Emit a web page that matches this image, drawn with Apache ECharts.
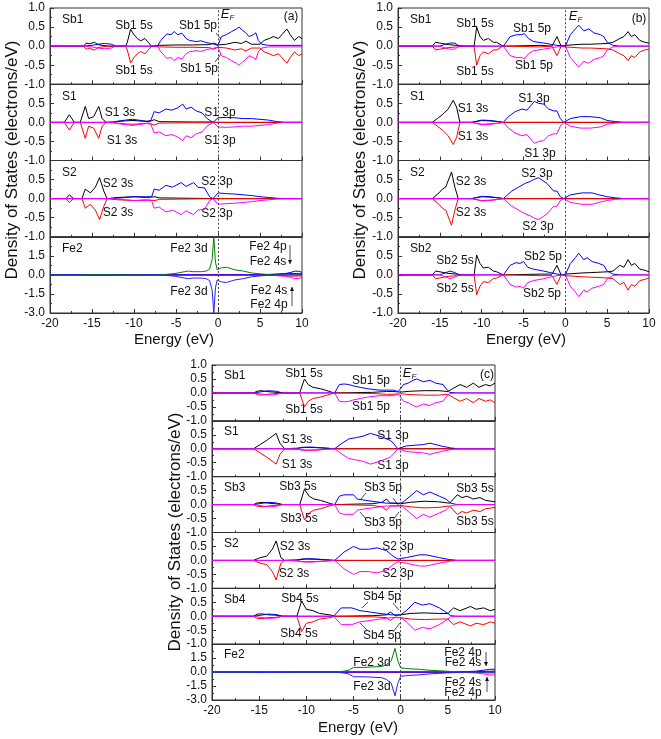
<!DOCTYPE html>
<html><head><meta charset="utf-8">
<script src="https://cdn.jsdelivr.net/npm/echarts/dist/echarts.min.js"></script>
<style>html,body{margin:0;padding:0;background:#fff}#c{width:661px;height:739px}</style>
</head><body><div id="c"></div>
<script>
// ---------- DATA (spin-up PDOS, [energy eV, states]) ; spin-down drawn mirrored ----------
const a_Sb1_s=[[-20,0],[-16,0],[-15.7,0.08],[-15.3,0.06],[-14.7,0.1],[-14.3,0.04],[-13.8,0.02],[-13,0],[-11,0],[-10.8,0.1],[-10.4,0.44],[-10,0.3],[-9.6,0.2],[-9.2,0.14],[-8.7,0.2],[-8.3,0.1],[-7.9,0],[-7,0.02],[-5,0.03],[-3,0.03],[-1,0.04],[-0.5,0.08],[0,0.03],[1,0.05],[2,0.1],[2.8,0.07],[3.3,0.13],[4,0.05],[5,0.05],[5.5,0.15],[6.1,0.2],[6.6,0.25],[7.2,0.2],[7.6,0.3],[8.2,0.45],[8.6,0.3],[9.1,0.15],[9.6,0.25],[10,0.2]];
const a_Sb1_p=[[-20,0],[-16,0],[-15,0.02],[-14.3,0.05],[-13.5,0.07],[-12.7,0.05],[-12.2,0],[-7.2,0],[-6.8,0.15],[-6.1,0.32],[-5.6,0.3],[-5.2,0.38],[-4.8,0.3],[-4.3,0.34],[-3.8,0.2],[-3.4,0.15],[-2.6,0.12],[-2,0.14],[-1.5,0.1],[-1.1,0.08],[-0.6,0.06],[0,0.02],[0.4,0.25],[1,0.3],[1.6,0.38],[2.2,0.45],[2.5,0.5],[2.9,0.42],[3.3,0.35],[3.7,0.25],[4.2,0.3],[4.5,0.35],[4.8,0.15],[5.2,0.05],[6,0.02],[10,0.02]];
const a_S1_s=[[-20,0],[-18.3,0],[-17.7,0.2],[-17.1,0],[-16.4,0],[-15.8,0.42],[-15.4,0.1],[-14.8,0.15],[-14.2,0.42],[-13.8,0.1],[-13.3,0],[-12,0.02],[-11,0.04],[-10,0.05],[-9,0.03],[-8.2,0.02],[-7.6,0.07],[-7,0.02],[-3,0.01],[-1,0.01],[0,0],[10,0]];
const a_S1_p=[[-20,0],[-12.5,0],[-12,0.03],[-11,0.06],[-10.2,0.08],[-9.5,0.06],[-8.5,0.03],[-8,0.05],[-7.6,0.28],[-7,0.25],[-6.2,0.35],[-5.5,0.32],[-4.8,0.38],[-4.2,0.48],[-3.8,0.35],[-3.2,0.4],[-2.6,0.3],[-1.9,0.25],[-1.3,0.1],[-0.6,0],[0,0.12],[1,0.13],[2,0.12],[3,0.1],[4,0.1],[5,0.08],[6,0.06],[7,0.02],[8,0],[10,0]];
const a_S2_s=[[-20,0],[-18.1,0],[-17.7,0.1],[-17.2,0],[-16.2,0],[-15.8,0.25],[-15.2,0.15],[-14.6,0.3],[-14.1,0.55],[-13.6,0.2],[-13.2,0],[-12,0.03],[-10,0.05],[-8.5,0.03],[-7.5,0.05],[-7,0.02],[0,0],[10,0]];
const a_S2_p=[[-20,0],[-12.5,0],[-11,0.03],[-10,0.05],[-8.5,0.05],[-7.9,0.05],[-7.6,0.25],[-7,0.22],[-6.2,0.35],[-5.4,0.3],[-4.4,0.42],[-3.8,0.32],[-2.9,0.42],[-2.4,0.3],[-1.6,0.28],[-1.0,0.05],[-0.6,0],[0,0.15],[1,0.13],[2,0.12],[3,0.1],[4,0.08],[5,0.05],[6,0.03],[7,0.01],[8,0],[10,0]];
const a_Fe2_d=[[-20,0],[-16,0],[-15,0.03],[-13,0.02],[-7,0],[-6,0.05],[-5,0.12],[-4,0.25],[-3.5,0.3],[-3,0.25],[-2,0.25],[-1.4,0.3],[-1,0.45],[-0.7,1.2],[-0.5,3.0],[-0.3,1.0],[-0.1,0.4],[0.4,0.55],[1,0.6],[1.5,0.5],[2,0.4],[3,0.3],[4,0.15],[5,0.08],[6,0.03],[7,0],[10,0]];
const a_Fe2_s=[[-20,0],[-16,0],[-15,0.03],[-13,0.02],[-11,0],[5,0],[6,0.03],[7,0.05],[8,0.08],[9,0.1],[10,0.08]];
const a_Fe2_p=[[-20,0],[5,0],[6,0.03],[7,0.06],[8,0.1],[8.7,0.2],[9.2,0.3],[9.6,0.28],[10,0.2]];

const b_Sb1_s=[[-20,0],[-15.9,0],[-15.5,0.1],[-15,0.08],[-14.5,0.06],[-14,0.04],[-13,0.02],[-12,0],[-10.9,0],[-10.6,0.5],[-10.2,0.25],[-9.8,0.15],[-9.2,0.2],[-8.6,0.1],[-8.2,0.1],[-7.6,0.02],[-7.3,0],[-3,0.02],[-1.6,0],[-1.0,0.25],[-0.5,0],[0,0.02],[2,0.05],[3,0.05],[5,0.07],[5.7,0.1],[6.5,0.2],[7,0.25],[7.5,0.38],[7.9,0.25],[8.3,0.3],[8.9,0.15],[9.5,0.1],[10,0.08]];
const b_Sb1_p=[[-20,0],[-15,0],[-14.5,0.04],[-13.8,0.08],[-13.2,0.08],[-12.7,0],[-7.4,0],[-6.6,0.25],[-5.8,0.3],[-5.2,0.3],[-4.9,0.33],[-4.4,0.2],[-3.8,0.12],[-2.6,0.08],[-1.8,0.05],[-1.0,0.02],[0,0],[0.6,0.3],[1.2,0.45],[1.6,0.55],[2.2,0.4],[2.8,0.45],[3.4,0.35],[4.2,0.3],[4.6,0.25],[5,0.1],[5.7,0.02],[6.5,0],[10,0]];
const b_S1_s=[[-20,0],[-15.9,0],[-15.3,0.1],[-14.7,0.2],[-14.0,0.35],[-13.4,0.58],[-13,0.4],[-12.6,0],[-11.2,0],[-11,0.04],[-10,0.05],[-9,0.04],[-8,0.02],[-7.4,0],[10,0]];
const b_S1_p=[[-20,0],[-11.2,0],[-11,0.04],[-10,0.06],[-9,0.05],[-8,0.02],[-7.4,0],[-6.8,0.15],[-6,0.28],[-5.2,0.35],[-4.6,0.32],[-4.2,0.42],[-3.7,0.55],[-3.2,0.5],[-2.6,0.48],[-2,0.35],[-1.4,0.3],[-1.0,0.3],[-0.6,0.1],[-0.2,0],[0.6,0.1],[1.8,0.15],[3,0.15],[4.2,0.12],[5,0.05],[6,0.02],[7,0],[10,0]];
const b_S2_s=[[-20,0],[-15.9,0],[-15.1,0.15],[-14.7,0.25],[-14.3,0.3],[-13.6,0.7],[-13.2,0.3],[-12.8,0],[-11.2,0],[-11,0.04],[-10,0.05],[-9,0.04],[-8,0.02],[-7.4,0],[10,0]];
const b_S2_p=[[-20,0],[-11.2,0],[-11,0.04],[-10,0.06],[-9,0.05],[-8,0.02],[-7.4,0],[-6.4,0.2],[-5.6,0.3],[-4.8,0.4],[-4.2,0.45],[-3.8,0.5],[-3.2,0.55],[-2.2,0.4],[-1.4,0.2],[-1.0,0.2],[-0.6,0.05],[-0.2,0],[0.6,0.1],[2,0.15],[3.2,0.15],[4,0.1],[5,0.05],[6,0.02],[7,0],[10,0]];
const b_Sb2_s=[[-20,0],[-15.9,0],[-15.5,0.1],[-15,0.08],[-14.5,0.06],[-14,0.04],[-13,0.02],[-12,0],[-10.9,0],[-10.6,0.52],[-10.2,0.3],[-9.8,0.18],[-9.2,0.2],[-8.6,0.1],[-8.2,0.08],[-7.6,0.02],[-7.3,0],[-3,0.02],[-1.6,0.02],[-1.0,0.25],[-0.5,0],[0,0.02],[2,0.05],[3,0.06],[5,0.08],[5.7,0.1],[6.5,0.25],[7,0.2],[7.5,0.4],[7.9,0.25],[8.3,0.3],[8.9,0.15],[9.5,0.12],[10,0.08]];
const b_Sb2_p=[[-20,0],[-15,0],[-14.5,0.04],[-13.8,0.1],[-13.2,0.06],[-12.7,0],[-7.4,0],[-6.6,0.25],[-5.9,0.32],[-5.4,0.3],[-5,0.35],[-4.5,0.2],[-3.8,0.15],[-2.6,0.1],[-1.8,0.06],[-1.0,0.02],[0,0],[0.6,0.3],[1.2,0.45],[1.6,0.57],[2.2,0.4],[2.6,0.45],[3.2,0.35],[4,0.3],[4.6,0.25],[5,0.1],[5.7,0.02],[6.5,0],[10,0]];

const c_Sb1_s=[[-20,0],[-15.6,0],[-15.2,0.06],[-14.8,0.08],[-14.2,0.05],[-13.5,0.03],[-12.5,0],[-10.7,0],[-10.2,0.5],[-9.8,0.3],[-9.3,0.2],[-8.5,0.15],[-8,0.1],[-7.5,0.05],[-7.1,0],[-3,0.02],[-1.5,0.05],[-0.8,0.05],[0,0.03],[1,0.06],[2.5,0.08],[4,0.08],[5,0.05],[5.5,0.15],[6.3,0.3],[7,0.2],[7.7,0.35],[8.3,0.2],[9,0.3],[9.5,0.25],[10,0.35]];
const c_Sb1_p=[[-20,0],[-15.6,0],[-15,0.03],[-14,0.08],[-13.2,0.06],[-12.5,0],[-7,0],[-6.5,0.3],[-6,0.32],[-5.5,0.3],[-5,0.25],[-4.3,0.2],[-3.5,0.15],[-2.3,0.1],[-0.8,0.1],[-0.3,0.05],[0,0.15],[0.3,0.3],[0.8,0.35],[1.3,0.45],[1.7,0.5],[2.4,0.4],[3.1,0.45],[3.7,0.35],[4.5,0.3],[4.8,0.15],[5.2,0.02],[6,0],[10,0]];
const c_S1_s=[[-20,0],[-15.6,0],[-14.9,0.15],[-14.2,0.3],[-13.2,0.55],[-12.8,0.2],[-12.3,0],[-11,0.02],[-10,0.05],[-9,0.04],[-8,0.02],[-7,0],[10,0]];
const c_S1_p=[[-20,0],[-11,0],[-10.5,0.05],[-9.5,0.06],[-8.5,0.04],[-7,0],[-6.2,0.2],[-5.5,0.35],[-4.7,0.4],[-4,0.45],[-3.2,0.55],[-2.2,0.45],[-1.1,0.3],[-0.8,0.2],[-0.3,0],[0.6,0.1],[2.4,0.15],[3.1,0.2],[4.3,0.1],[5.3,0.03],[6,0],[10,0]];
const c_Sb3_s=[[-20,0],[-15.6,0],[-15.2,0.06],[-14.6,0.08],[-14,0.05],[-13.3,0.03],[-12.5,0],[-10.7,0],[-10.2,0.55],[-9.7,0.3],[-9.2,0.2],[-8.5,0.15],[-8,0.1],[-7.5,0.04],[-7,0],[-3,0.03],[-2,0.08],[-1.5,0.2],[-1.1,0.05],[-0.5,0.05],[0,0.03],[1,0.08],[2.5,0.12],[4,0.1],[5.2,0.05],[6,0.35],[6.5,0.25],[7,0.3],[7.7,0.2],[8.4,0.25],[9,0.15],[10,0.1]];
const c_Sb3_p=[[-20,0],[-15.6,0],[-15,0.03],[-14,0.08],[-13.2,0.06],[-12.5,0],[-7,0],[-6.5,0.3],[-6,0.35],[-5,0.35],[-4.6,0.2],[-3.7,0.15],[-2.6,0.1],[-1.5,0.05],[-0.5,0.05],[0,0.05],[0.3,0.1],[1,0.3],[1.7,0.5],[2.4,0.35],[3.1,0.45],[4.1,0.3],[4.8,0.2],[5.3,0.05],[6,0],[10,0]];
const c_S2_s=[[-20,0],[-15.6,0],[-14.9,0.1],[-14.2,0.15],[-13.6,0.4],[-13.2,0.7],[-12.7,0.1],[-12.3,0],[-11,0.02],[-10,0.05],[-9,0.04],[-8,0.02],[-7,0],[10,0]];
const c_S2_p=[[-20,0],[-11,0],[-10.5,0.05],[-9.5,0.06],[-8.5,0.04],[-7,0],[-6,0.3],[-5,0.5],[-4.3,0.4],[-3.4,0.4],[-2.5,0.45],[-1.5,0.35],[-0.8,0.15],[-0.3,0.05],[0.6,0.1],[2,0.2],[2.7,0.2],[4.1,0.1],[5.2,0.03],[6,0],[10,0]];
const c_Sb4_s=[[-20,0],[-15.6,0],[-15.2,0.08],[-14.6,0.08],[-14,0.05],[-13.3,0.04],[-12.5,0],[-11,0],[-10.5,0.55],[-10,0.25],[-9.3,0.2],[-8.6,0.1],[-7.5,0.05],[-7,0],[-3,0.02],[-1.5,0.05],[-1.1,0.15],[-0.6,0.03],[0,0.05],[1,0.1],[2.5,0.12],[4,0.1],[5,0.1],[5.6,0.3],[6.3,0.2],[7.4,0.35],[8,0.25],[8.8,0.3],[9.5,0.2],[10,0.25]];
const c_Sb4_p=[[-20,0],[-15.6,0],[-15,0.03],[-14,0.08],[-13.2,0.06],[-12.5,0],[-7.1,0],[-6.3,0.3],[-5.2,0.3],[-4.3,0.2],[-3.2,0.15],[-2.2,0.1],[-1,0.05],[0,0.05],[0.6,0.2],[1.5,0.5],[2.3,0.4],[3.1,0.45],[4.1,0.3],[4.8,0.15],[5.3,0.02],[6,0],[10,0]];
const c_Fe2_d=[[-20,0],[-16,0],[-15,0.05],[-13,0.03],[-11,0],[-7,0],[-6,0.1],[-5.5,0.2],[-5,0.5],[-4,0.5],[-3,0.55],[-2,0.6],[-1.5,0.8],[-1,1.2],[-0.6,2.55],[-0.3,1.2],[0,0.45],[0.5,0.4],[1,0.35],[2,0.3],[3,0.2],[4,0.15],[5,0.08],[6,0.03],[7,0],[10,0]];
const c_Fe2_s=[[-20,0],[6,0],[7,0.02],[8,0.05],[9,0.08],[10,0.1]];
const c_Fe2_p=[[-20,0],[6,0],[7,0.05],[8,0.1],[8.8,0.2],[9.4,0.3],[10,0.3]];

const xTicks={min:-20,max:10,step:5};
// ---------- LAYOUT ----------
const FONT='"Liberation Sans", Arial, sans-serif';
const panels=[
 {left:50,width:252,top:8,bottom:313,subs:[
  {name:'Sb1',s:a_Sb1_s,p:a_Sb1_p,m:1},{name:'S1',s:a_S1_s,p:a_S1_p,m:1},
  {name:'S2',s:a_S2_s,p:a_S2_p,m:1},{name:'Fe2',s:a_Fe2_s,p:a_Fe2_p,d:a_Fe2_d,m:3}]},
 {left:398,width:251,top:8,bottom:313,subs:[
  {name:'Sb1',s:b_Sb1_s,p:b_Sb1_p,m:1},{name:'S1',s:b_S1_s,p:b_S1_p,m:1},
  {name:'S2',s:b_S2_s,p:b_S2_p,m:1},{name:'Sb2',s:b_Sb2_s,p:b_Sb2_p,m:1}]},
 {left:212,width:283,top:365,bottom:700,subs:[
  {name:'Sb1',s:c_Sb1_s,p:c_Sb1_p,m:1},{name:'S1',s:c_S1_s,p:c_S1_p,m:1},
  {name:'Sb3',s:c_Sb3_s,p:c_Sb3_p,m:1},{name:'S2',s:c_S2_s,p:c_S2_p,m:1},
  {name:'Sb4',s:c_Sb4_s,p:c_Sb4_p,m:1},{name:'Fe2',s:c_Fe2_s,p:c_Fe2_p,d:c_Fe2_d,m:3}]}
];
const neg=a=>a.map(d=>[d[0],-d[1]]);
const grids=[],xAxes=[],yAxes=[],series=[],graphic=[];
let gi=0;
function txt(x,y,t,o){o=o||{};return {type:'text',x:x,y:y,silent:true,rotation:o.rot||0,style:{text:t,fill:'#111',font:(o.style||'')+' '+(o.size||12)+'px '+FONT,align:o.align||'center',textAlign:o.align||'center',verticalAlign:'middle',textVerticalAlign:'middle'}};}
function line(x1,y1,x2,y2){return {type:'line',silent:true,shape:{x1,y1,x2,y2},style:{stroke:'#222',lineWidth:0.8}};}
function arrow(x,y1,y2){const d=y2>y1?1:-1;return [line(x,y1,x,y2),{type:'polygon',silent:true,shape:{points:[[x-2,y2-4*d],[x+2,y2-4*d],[x,y2]]},style:{fill:'#111'}}];}
panels.forEach(P=>{
 const n=P.subs.length,h=(P.bottom-P.top)/n;
 P.subs.forEach((S,k)=>{
  const top=P.top+k*h,first=k===0,last=k===n-1;
  grids.push({left:P.left,top:top,width:P.width,height:h,show:true,borderColor:'#333',borderWidth:1,backgroundColor:'transparent'});
  xAxes.push({type:'value',gridIndex:gi,min:xTicks.min,max:xTicks.max,interval:xTicks.step,
   axisLine:{show:true,onZero:false,lineStyle:{color:'#333'}},
   axisTick:{show:true,inside:true,length:4,lineStyle:{color:'#333'}},
   minorTick:{show:true,splitNumber:2,length:2,lineStyle:{color:'#333'}},
   axisLabel:{show:last,color:'#111',fontSize:12,fontFamily:FONT,margin:5},splitLine:{show:false}});
  yAxes.push({type:'value',gridIndex:gi,min:-S.m,max:S.m,interval:S.m/2,
   axisLine:{show:true,onZero:false,lineStyle:{color:'#333'}},
   axisTick:{show:true,inside:true,length:4,lineStyle:{color:'#333'}},
   minorTick:{show:true,splitNumber:2,length:2,lineStyle:{color:'#333'}},
   axisLabel:{color:'#111',fontSize:12,fontFamily:FONT,margin:5,showMaxLabel:first,showMinLabel:true,formatter:v=>v.toFixed(1)},splitLine:{show:false}});
  const mk=(data,color)=>({type:'line',xAxisIndex:gi,yAxisIndex:gi,data:data,symbol:'none',showSymbol:false,silent:true,animation:false,clip:true,lineStyle:{width:1,color:color},z:2});
  const list=[];
  list.push(mk(S.s,'#000'));
  list.push(mk(neg(S.s),'#ff0000'));
  if(S.d){
   list.push(mk(neg(S.p),'#ff00ff'));
   list.push(mk(S.p,'#0000ff'));
   list.push(mk(S.d,'#008000'));
   list.push(mk(neg(S.d),'#2222ff'));
  } else {
   list.push(mk(S.p,'#0000ff'));
   list.push(mk(neg(S.p),'#ff00ff'));
  }
  list[0].markLine={silent:true,symbol:'none',animation:false,label:{show:false},lineStyle:{type:[2,2],color:'#444',width:1},data:[{xAxis:0}]};
  list.forEach(s=>series.push(s));
  graphic.push(txt(P.left+12,top+(P.subs.length>4?11:12),S.name,{align:'left'}));
  gi++;
 });
});
// annotations
const ann=[
 [134,26,'Sb1 5s'],[198,26,'Sb1 5p'],[134,71,'Sb1 5s'],[199,69,'Sb1 5p'],
 [120,113,'S1 3s'],[220,113,'S1 3p'],[122,141,'S1 3s'],[220,141,'S1 3p'],
 [118,184,'S2 3s'],[217,182,'S2 3p'],[118,213,'S2 3s'],[217,214,'S2 3p'],
 [189,249,'Fe2 3d'],[268,247,'Fe2 4p'],[268,262,'Fe2 4s'],[189,292,'Fe2 3d'],[269,291,'Fe2 4s'],[269,305,'Fe2 4p'],
 [475,24,'Sb1 5s'],[532,29,'Sb1 5p'],[475,72,'Sb1 5s'],[534,66,'Sb1 5p'],
 [473,109,'S1 3s'],[534,99,'S1 3p'],[473,137,'S1 3s'],[540,154,'S1 3p'],
 [471,182,'S2 3s'],[537,174,'S2 3p'],[471,213,'S2 3s'],[538,227,'S2 3p'],
 [455,261,'Sb2 5s'],[543,257,'Sb2 5p'],[455,289,'Sb2 5s'],[542,294,'Sb2 5p'],
 [304,374,'Sb1 5s'],[371,381,'Sb1 5p'],[304,410,'Sb1 5s'],[371,407,'Sb1 5p'],
 [297,440,'S1 3s'],[393,436,'S1 3p'],[297,465,'S1 3s'],[393,466,'S1 3p'],
 [298,487,'Sb3 5s'],[383,488,'Sb3 5p'],[475,489,'Sb3 5s'],[299,519,'Sb3 5s'],[383,523,'Sb3 5p'],[475,522,'Sb3 5s'],
 [295,547,'S2 3s'],[398,547,'S2 3p'],[294,574,'S2 3s'],[398,574,'S2 3p'],
 [300,599,'Sb4 5s'],[382,597,'Sb4 5p'],[299,634,'Sb4 5s'],[382,636,'Sb4 5p'],
 [372,663,'Fe2 3d'],[372,687,'Fe2 3d'],[463,653,'Fe2 4p'],[463,663,'Fe2 4s'],[463,683,'Fe2 4s'],[463,693,'Fe2 4p']
];
ann.forEach(a=>graphic.push(txt(a[0],a[1],a[2])));
graphic.push(txt(291,17,'(a)'),txt(639,19,'(b)'),txt(487,375,'(c)'));
[[225,14],[573,16],[407,373]].forEach(p=>{graphic.push(txt(p[0],p[1],'E',{style:'italic',size:13}));graphic.push(txt(p[0]+7,p[1]+4,'F',{style:'italic',size:8}));});
graphic.push(txt(174,340,'Energy (eV)',{size:15}),txt(526,340,'Energy (eV)',{size:15}),txt(358,728,'Energy (eV)',{size:15}));
graphic.push(txt(12,160,'Density of States (electrons/eV)',{size:17,rot:Math.PI/2}),txt(360,160,'Density of States (electrons/eV)',{size:17,rot:Math.PI/2}),txt(175,532,'Density of States (electrons/eV)',{size:17,rot:Math.PI/2}));
// leader lines and arrows
graphic.push(line(216,33,221,39),line(215,62,221,54));
graphic.push(line(366,493,361,499),line(393,498,399,506),line(366,519,360,512),line(393,520,399,512));
graphic.push(line(368,602,362,608),line(393,603,399,610),line(367,630,360,623),line(393,632,400,623));
arrow(290,245,264).forEach(g=>graphic.push(g));arrow(292,306,287).forEach(g=>graphic.push(g));
arrow(486,652,666).forEach(g=>graphic.push(g));arrow(487,692,677).forEach(g=>graphic.push(g));
const chart=echarts.init(document.getElementById('c'),null,{renderer:'canvas'});
chart.setOption({animation:false,backgroundColor:'#fff',grid:grids,xAxis:xAxes,yAxis:yAxes,series:series,graphic:{elements:graphic}});
</script></body></html>
